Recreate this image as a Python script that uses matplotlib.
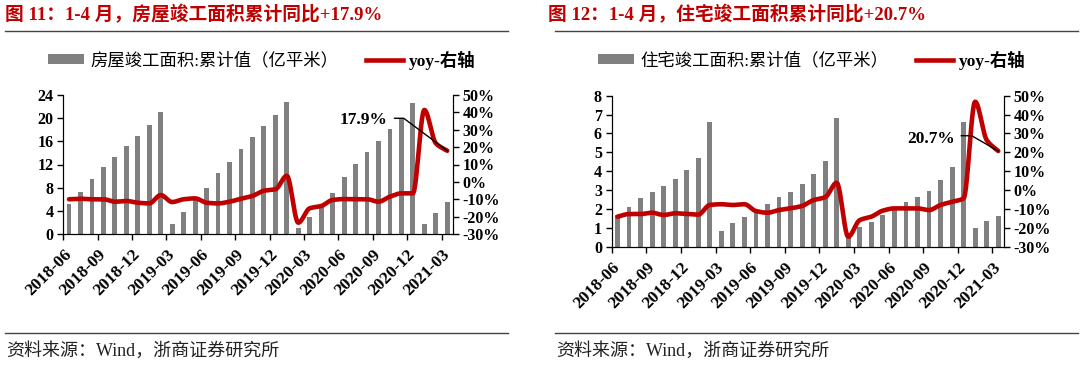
import numpy as np
import matplotlib
matplotlib.use("Agg")
import matplotlib.pyplot as plt
from matplotlib.lines import Line2D
from matplotlib.patches import Patch

plt.rcParams['font.family'] = ['Liberation Serif', 'Noto Sans CJK SC']
plt.rcParams['axes.unicode_minus'] = False

# ---------------- data (2018-04 .. 2021-04, Jan merged into Feb) ----------------
tick_labels = ['2018-06', '2018-09', '2018-12', '2019-03', '2019-06', '2019-09',
               '2019-12', '2020-03', '2020-06', '2020-09', '2020-12', '2021-03']

house_area = [5.2, 7.2, 9.5, 11.5, 13.3, 15.2, 16.9, 18.9, 21.0,
              1.8, 3.8, 5.8, 7.9, 10.5, 12.5, 14.6, 16.7, 18.6, 20.6, 22.8,
              1.1, 3.0, 5.0, 7.0, 9.9, 12.1, 14.2, 16.1, 18.1, 20.0, 22.6,
              1.8, 3.7, 5.5]
house_yoy = [-10.0, -9.7, -10.0, -10.0, -11.4, -11.0, -12.0, -12.4, -7.6,
             -11.6, -10.0, -9.5, -12.0, -12.4, -11.4, -9.7, -8.1, -5.1, -4.3, 3.5,
             -23.5, -15.2, -13.9, -10.4, -9.9, -10.0, -10.0, -11.4, -8.5, -6.6, -6.6,
             41.4, 22.2, 17.9]

resi_area = [1.68, 2.09, 2.56, 2.92, 3.22, 3.59, 4.06, 4.68, 6.59,
             0.85, 1.27, 1.59, 1.94, 2.26, 2.61, 2.92, 3.30, 3.83, 4.54, 6.80,
             0.55, 1.06, 1.33, 1.68, 2.03, 2.35, 2.65, 2.95, 3.53, 4.24, 6.59,
             0.97, 1.36, 1.64]
resi_yoy = [-14.1, -12.7, -12.7, -12.0, -13.2, -12.3, -12.7, -13.0, -7.9,
            -7.5, -7.9, -7.5, -11.1, -12.0, -10.6, -9.7, -8.4, -5.3, -3.8, 3.9,
            -24.7, -15.9, -14.1, -10.9, -9.7, -9.7, -9.7, -10.6, -7.9, -6.2, -4.4,
            46.8, 26.5, 20.7]

W, H = 1080, 366
fig = plt.figure(figsize=(W / 100, H / 100), dpi=100)


def fx(px):
    return px / W


def fy(py):
    return 1 - py / H


def pchip(y, n=24):
    """Monotone cubic (Fritsch-Carlson) smoothing of the drawn line."""
    y = np.asarray(y, float)
    d = np.diff(y)
    m = np.zeros_like(y)
    m[0], m[-1] = d[0], d[-1]
    for k in range(1, len(y) - 1):
        if d[k - 1] * d[k] > 0:
            m[k] = 2.0 / (1.0 / d[k - 1] + 1.0 / d[k])
    xs, ys = [], []
    t = np.linspace(0, 1, n, endpoint=False)
    h00 = 2 * t**3 - 3 * t**2 + 1
    h10 = t**3 - 2 * t**2 + t
    h01 = -2 * t**3 + 3 * t**2
    h11 = t**3 - t**2
    for k in range(len(y) - 1):
        xs.append(k + t)
        ys.append(h00 * y[k] + h10 * m[k] + h01 * y[k + 1] + h11 * m[k + 1])
    xs.append([len(y) - 1])
    ys.append([y[-1]])
    return np.concatenate(xs), np.concatenate(ys)


RED = '#C00000'
GRAY = '#808080'


def panel(rect, area, yoy, ymax, ystep, title, area_label, note,
          note_xy, knee, title_px, rule_px, legend_px):
    ax = fig.add_axes(rect)
    x = np.arange(len(area))
    ax.bar(x, area, width=0.42, color=GRAY, zorder=2)
    ax.set_xlim(-0.5, len(area) - 0.5)
    ax.set_ylim(0, ymax)
    yv = np.arange(0, ymax + 0.001, ystep)
    ax.set_yticks(yv)
    ax.set_yticklabels([f'{v:.0f}' for v in yv], fontweight='bold', fontsize=11.5)
    ax.set_xticks(np.arange(-0.5, len(area) - 1, 3))
    ax.set_xticklabels([])
    ax.set_xticks(np.arange(0, len(area), 3), minor=True)
    ax.set_xticklabels(tick_labels, minor=True, rotation=45, ha='right',
                       va='center', rotation_mode='anchor', fontweight='bold',
                       fontsize=12.5)
    ax.tick_params(axis='x', which='major', direction='out', length=4, width=1)
    ax.tick_params(axis='x', which='minor', length=0, pad=13)
    ax.tick_params(axis='y', direction='out', length=4, width=1, pad=3)
    ax.spines['top'].set_visible(False)

    ax2 = ax.twinx()
    ax2.set_ylim(-30, 50)
    yt = np.arange(-30, 51, 10)
    ax2.set_yticks(yt)
    ax2.set_yticklabels([f'{v}%' for v in yt], fontweight='bold', fontsize=11.5)
    ax2.tick_params(axis='y', direction='out', length=4, width=1, pad=3)
    ax2.spines['top'].set_visible(False)
    xs, ys = pchip(yoy)
    ax2.plot(xs, ys, color=RED, lw=3.3, solid_capstyle='round', zorder=3)

    # annotation of the latest value
    ax2.text(note_xy[0], note_xy[1], note, ha='right', va='center',
             fontsize=12.5, fontweight='bold')
    ax2.plot([knee[0], knee[1], x[-1]], [knee[2], knee[2], yoy[-1]],
             color='black', lw=1, zorder=4)

    # title, rules, legend, source
    fig.text(fx(title_px), fy(15), title, fontsize=13.5, fontweight='bold',
             color=RED, ha='left', va='center')
    fig.add_artist(Line2D([fx(rule_px[0]), fx(rule_px[1])], [fy(31), fy(31)],
                          color='#444444', lw=1))
    fig.add_artist(Line2D([fx(rule_px[0]), fx(rule_px[1])], [fy(333), fy(333)],
                          color='#444444', lw=1))
    fig.text(fx(rule_px[0] + 1), fy(351), '资料来源：Wind，浙商证券研究所',
             fontsize=13, color='#222222', ha='left', va='center')
    handles = [Patch(facecolor=GRAY, edgecolor='none'),
               Line2D([], [], color=RED, lw=3.3)]
    leg = ax.legend(handles, [area_label, 'yoy-右轴'], loc='center left',
                    bbox_to_anchor=(fx(legend_px), fy(60)),
                    bbox_transform=fig.transFigure, ncol=2, frameon=False,
                    fontsize=12.5, handlelength=2.1, handleheight=0.5,
                    handletextpad=0.35, columnspacing=1.6, borderpad=0,
                    borderaxespad=0)
    leg.get_texts()[1].set_fontweight('bold')
    return ax, ax2


panel([fx(63.3), fy(234), (453 - 63.3) / W, 139 / H], house_area, house_yoy,
      24, 4, '图 11：1-4 月，房屋竣工面积累计同比+17.9%',
      '房屋竣工面积:累计值（亿平米）', '17.9%', (27.75, 35.6),
      (28.4, 29.2, 36.6), 5, (5, 508), 48)

panel([fx(611.7), fy(246.7), (1004 - 611.7) / W, 151 / H], resi_area, resi_yoy,
      8, 1, '图 12：1-4 月，住宅竣工面积累计同比+20.7%',
      '住宅竣工面积:累计值（亿平米）', '20.7%', (29.25, 27.1),
      (29.8, 30.7, 28.8), 548, (555, 1078), 598)

fig.savefig('out.png', dpi=100)
